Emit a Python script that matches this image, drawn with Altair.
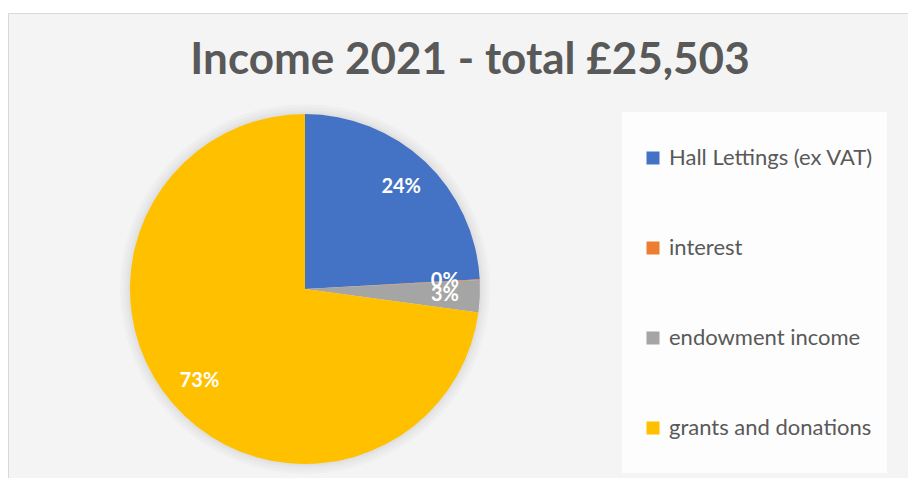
import math
import altair as alt
import pandas as pd

categories = ["Hall Lettings (ex VAT)", "interest", "endowment income", "grants and donations"]
values = [6150, 15, 760, 18578]
colors = ["#4472C4", "#ED7D31", "#A5A5A5", "#FFC000"]
title_text = "Income 2021 - total £25,503"

df = pd.DataFrame({"category": categories, "value": values, "idx": list(range(len(categories)))})
one = pd.DataFrame({"k": [0]})

W, H = 900, 470
CX, CY, R = 297, 281, 175

bg = alt.Chart(one).mark_rect(fill="#f4f4f4", stroke="#d9d9d9", strokeWidth=1).encode(
    x=alt.value(0.5), x2=alt.value(W + 20), y=alt.value(5.5), y2=alt.value(H + 20)
)
legend_box = alt.Chart(one).mark_rect(fill="#fdfdfd").encode(
    x=alt.value(614), x2=alt.value(879), y=alt.value(104), y2=alt.value(465)
)

glow = [
    alt.Chart(one).mark_arc(theta=0, theta2=2 * math.pi, radius=R + d, color="black", opacity=0.02).encode(
        x=alt.value(CX), y=alt.value(CY)
    )
    for d in (10, 7, 4, 2)
]

base = alt.Chart(df).encode(
    theta=alt.Theta("value:Q", stack=True),
    order=alt.Order("idx:Q"),
    x=alt.value(CX),
    y=alt.value(CY),
)

pie = base.mark_arc(radius=R).encode(
    color=alt.Color(
        "category:N",
        sort=categories,
        scale=alt.Scale(domain=categories, range=colors),
        legend=alt.Legend(
            title=None,
            orient="none",
            legendX=634,
            legendY=139,
            symbolType="square",
            symbolSize=169,
            symbolStrokeWidth=0,
            labelFont="Lato",
            labelFontSize=22,
            labelColor="#595959",
            labelOffset=5,
            rowPadding=68,
            labelLimit=400,
            padding=0,
        ),
    )
)

labels = base.transform_joinaggregate(total="sum(value)").transform_calculate(
    pct="format(datum.value / datum.total, '.0%')"
).mark_text(radius=140, font="Lato", fontWeight="bold", fontSize=20, color="white").encode(
    text="pct:N"
)

chart = alt.layer(bg, legend_box, *glow, pie, labels).properties(
    width=W,
    height=H,
    autosize=alt.AutoSizeParams(type="none"),
    padding=0,
    title=alt.TitleParams(
        title_text,
        font="Lato",
        fontSize=44,
        fontWeight="bold",
        color="#595959",
        anchor="middle",
        frame="group",
        baseline="alphabetic",
        dx=12,
        dy=110,
        offset=0,
    ),
).configure_view(stroke=None)

chart.save("out.html", embed_options={"renderer": "svg", "actions": False})
